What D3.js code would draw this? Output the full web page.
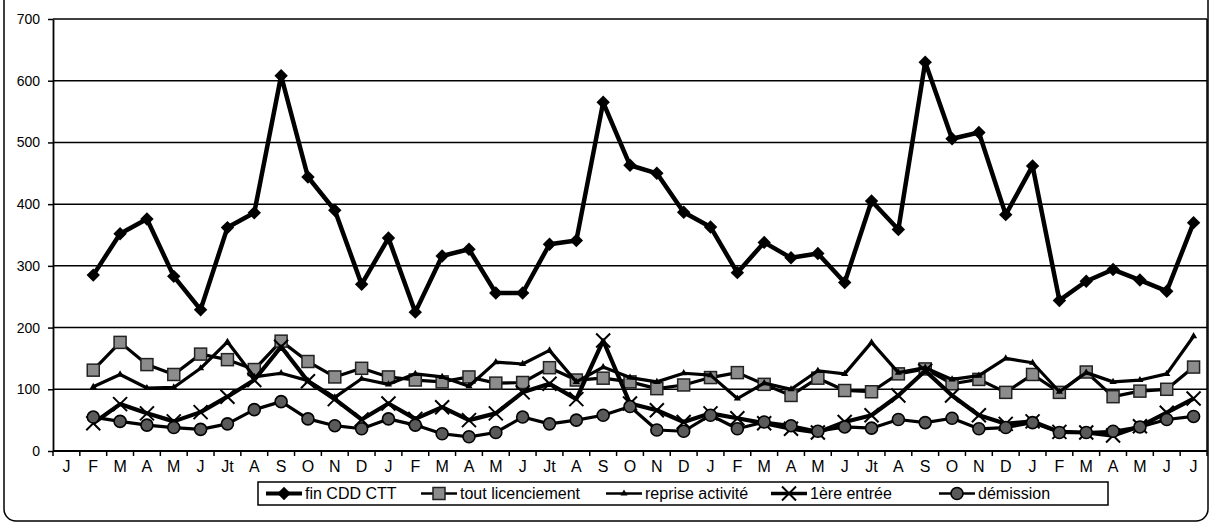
<!DOCTYPE html>
<html>
<head>
<meta charset="utf-8">
<script src="https://cdn.jsdelivr.net/npm/d3@7/dist/d3.min.js"></script>
<style>
  html, body { margin: 0; padding: 0; background: #fff; }
  svg { display: block; font-family: "Liberation Sans", Arial, sans-serif; }
</style>
</head>
<body>
<svg id="chart" width="1211" height="528"></svg>
<script>
// month labels (43 months, first one has no data)
var months = ["J","F","M","A","M","J","Jt","A","S","O","N","D",
              "J","F","M","A","M","J","Jt","A","S","O","N","D",
              "J","F","M","A","M","J","Jt","A","S","O","N","D",
              "J","F","M","A","M","J","J"];

var finCDD = [null, 285,352,376,283,229,362,386,608,444,390,270,
              345,225,316,327,256,256,335,341,565,463,450,387,
              363,289,338,313,320,273,405,359,630,506,516,383,
              462,244,275,294,277,259,370];

var licenciement = [null, 131,176,140,124,157,148,132,178,145,120,134,
                    120,115,112,120,110,111,135,115,118,112,101,107,
                    119,127,108,90,118,98,96,125,133,109,116,95,
                    124,95,128,88,97,100,136];

var reprise = [null, 104,124,102,103,134,177,120,126,114,87,117,
               108,125,120,105,144,141,163,112,136,119,112,126,
               123,85,110,100,130,125,176,127,135,116,122,150,
               143,96,127,112,115,125,186];

var premiere = [null, 45,76,61,48,63,88,115,169,113,84,51,
                77,52,71,50,61,95,109,84,179,77,66,47,
                61,53,45,36,30,47,58,90,130,90,58,44,
                48,31,30,25,40,62,85];

var demission = [null, 55,48,42,38,35,44,67,80,52,41,36,
                 52,42,28,23,30,55,44,50,58,72,34,32,
                 58,36,47,41,32,39,37,51,46,53,36,38,
                 46,30,30,32,39,51,56];

var yTicks = [0,100,200,300,400,500,600,700];

var seriesNames = ["fin CDD CTT", "tout licenciement", "reprise activité", "1ère entrée", "démission"];

// ------------------------------------------------------------------
// Setup

var svg = d3.select('#chart');
var margin = {left: 53, right: 1207, top: 19, bottom: 451};

var x = d3.scaleBand()
    .domain(d3.range(months.length))
    .range([margin.left, margin.right]);

var y = d3.scaleLinear()
    .domain([0, 700])
    .range([margin.bottom, margin.top]);

var cx = function(i) { return x(i) + x.bandwidth() / 2; };

// outer frame with rounded corners
svg.append('rect')
    .attr('x', 4).attr('y', -20)
    .attr('width', 1204).attr('height', 541)
    .attr('rx', 12)
    .attr('fill', 'none')
    .attr('stroke', '#000')
    .attr('stroke-width', 1.5);

// gridlines
svg.append('g').selectAll('line')
    .data(yTicks.slice(1))
    .enter().append('line')
    .attr('x1', margin.left).attr('x2', margin.right)
    .attr('y1', function(d) { return y(d); })
    .attr('y2', function(d) { return y(d); })
    .attr('stroke', '#000')
    .attr('stroke-width', 1.5);

// right border of the plot area
svg.append('line')
    .attr('x1', margin.right).attr('x2', margin.right)
    .attr('y1', margin.top).attr('y2', margin.bottom)
    .attr('stroke', '#000').attr('stroke-width', 1.5);

// y axis
var yAxis = svg.append('g')
    .attr('transform', 'translate(' + margin.left + ',0)')
    .call(d3.axisLeft(y).tickValues(yTicks).tickSize(5).tickSizeOuter(0));
yAxis.select('.domain').attr('stroke-width', 1.8);
yAxis.selectAll('line').attr('stroke-width', 1.5);
yAxis.selectAll('text')
    .attr('x', -13)
    .style('font-size', '14px')
    .style('font-family', '"Liberation Sans", Arial, sans-serif')
    .attr('fill', '#000');

// x axis line
svg.append('line')
    .attr('x1', margin.left).attr('x2', margin.right)
    .attr('y1', margin.bottom).attr('y2', margin.bottom)
    .attr('stroke', '#000').attr('stroke-width', 1.8);

// tick marks between months
svg.append('g').selectAll('line')
    .data(d3.range(months.length + 1))
    .enter().append('line')
    .attr('x1', function(i) { return i < months.length ? x(i) : margin.right; })
    .attr('x2', function(i) { return i < months.length ? x(i) : margin.right; })
    .attr('y1', margin.bottom).attr('y2', margin.bottom + 5)
    .attr('stroke', '#000').attr('stroke-width', 1.5);

// month labels
svg.append('g').selectAll('text')
    .data(months)
    .enter().append('text')
    .attr('x', function(d, i) { return cx(i); })
    .attr('y', margin.bottom + 21)
    .attr('text-anchor', 'middle')
    .style('font-size', '16px')
    .text(function(d) { return d; });

// ------------------------------------------------------------------
// Markers

function drawMarker(g, type, px, py) {
    if (type === 'diamond') {
        g.append('path')
            .attr('d', d3.symbol().type(d3.symbolDiamond2).size(115)())
            .attr('transform', 'translate(' + px + ',' + py + ')')
            .attr('fill', '#000');
    } else if (type === 'square') {
        g.append('rect')
            .attr('x', px - 6).attr('y', py - 6)
            .attr('width', 12).attr('height', 12)
            .attr('fill', '#8c8c8c')
            .attr('stroke', '#222').attr('stroke-width', 1.5);
    } else if (type === 'triangle') {
        g.append('path')
            .attr('d', d3.symbol().type(d3.symbolTriangle).size(22)())
            .attr('transform', 'translate(' + px + ',' + py + ')')
            .attr('fill', '#000');
    } else if (type === 'cross') {
        g.append('path')
            .attr('d', 'M' + (px - 7) + ',' + (py - 7) + 'L' + (px + 7) + ',' + (py + 7) +
                       'M' + (px - 7) + ',' + (py + 7) + 'L' + (px + 7) + ',' + (py - 7))
            .attr('stroke', '#000').attr('stroke-width', 2);
    } else if (type === 'circle') {
        g.append('circle')
            .attr('cx', px).attr('cy', py).attr('r', 6)
            .attr('fill', '#5a5a5a')
            .attr('stroke', '#000').attr('stroke-width', 1.6);
    }
}

var series = [
    {name: seriesNames[0], values: finCDD,       marker: 'diamond',  width: 4.5},
    {name: seriesNames[1], values: licenciement, marker: 'square',   width: 3.2},
    {name: seriesNames[2], values: reprise,      marker: 'triangle', width: 3.2},
    {name: seriesNames[3], values: premiere,     marker: 'cross',    width: 4.2},
    {name: seriesNames[4], values: demission,    marker: 'circle',   width: 3.2}
];

var line = d3.line()
    .defined(function(d) { return d !== null; })
    .x(function(d, i) { return cx(i); })
    .y(function(d) { return y(d); });

series.forEach(function(s) {
    var g = svg.append('g');
    g.append('path')
        .datum(s.values)
        .attr('d', line)
        .attr('fill', 'none')
        .attr('stroke', '#000')
        .attr('stroke-width', s.width)
        .attr('stroke-linejoin', 'round');
    s.values.forEach(function(v, i) {
        if (v === null) return;
        drawMarker(g, s.marker, cx(i), y(v));
    });
});

// ------------------------------------------------------------------
// Legend

var legend = svg.append('g');
legend.append('rect')
    .attr('x', 258).attr('y', 482)
    .attr('width', 850).attr('height', 23)
    .attr('fill', '#fff')
    .attr('stroke', '#000').attr('stroke-width', 1.5);

var legendX = [266, 421, 606, 771, 939];
series.forEach(function(s, k) {
    var lx = legendX[k], ly = 493.5;
    legend.append('line')
        .attr('x1', lx).attr('x2', lx + 36)
        .attr('y1', ly).attr('y2', ly)
        .attr('stroke', '#000').attr('stroke-width', s.width - 0.5);
    drawMarker(legend, s.marker, lx + 18, ly);
    legend.append('text')
        .attr('x', lx + 39).attr('y', ly + 5.5)
        .style('font-size', '16px')
        .text(s.name);
});
</script>
</body>
</html>
